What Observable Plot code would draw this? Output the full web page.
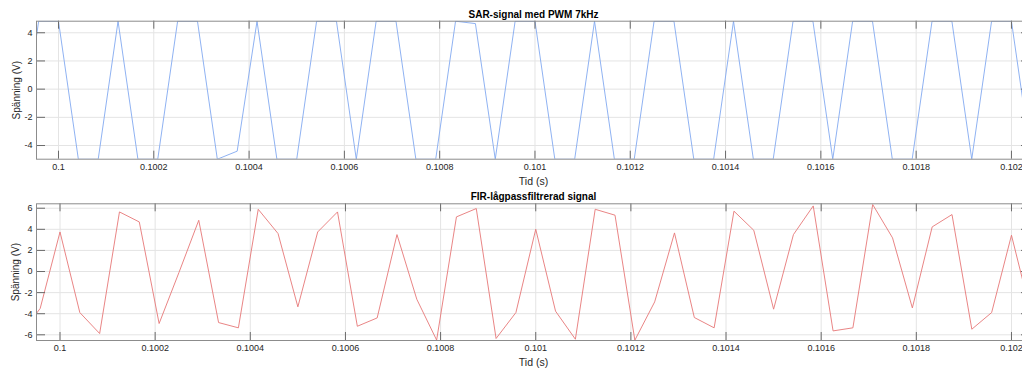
<!DOCTYPE html>
<html><head><meta charset="utf-8">
<script src="https://cdn.jsdelivr.net/npm/d3@7"></script>
<script src="https://cdn.jsdelivr.net/npm/@observablehq/plot@0.6"></script>
<style>
html,body{margin:0;padding:0;background:#fff;overflow:hidden;width:1022px;height:369px}
#chart{width:1030px}
#chart svg{display:block;max-width:none !important;width:1030px;overflow:visible}
</style></head><body><div id="chart"></div>
<script>
// sampling: samples n = firstSample ... at t = n / sampleRate
const sampleRate = 24000;
const firstSample = 2398;

const T = 4.82, B = -4.97;
const sarValues = [B, T, T, B, B, T, B, B, T, T, B, -4.4, T, B, B, T, T, B, T, T, B, B, T, 4.65, B, T, T, B, B, T, B, B, T, T, B, B, T, B, B, T, T, B, T, T, B, B, T, T, B, T, T, B];
const firValues = [-6.0, -3.5, 3.75, -3.89, -5.88, 5.65, 4.7, -4.93, -0.1, 4.86, -4.84, -5.34, 5.9, 3.6, -3.35, 3.75, 5.65, -5.19, -4.4, 3.5, -2.63, -6.5, 5.18, 5.97, -6.35, -3.89, 4.01, -3.76, -6.42, 5.9, 5.34, -6.51, -2.88, 3.66, -4.36, -5.34, 5.72, 3.91, -3.57, 3.5, 6.22, -5.63, -5.34, 6.35, 3.19, -3.45, 4.23, 5.4, -5.47, -3.89, 3.44, -4.1];

const xTicks = [0.1, 0.1002, 0.1004, 0.1006, 0.1008, 0.101, 0.1012, 0.1014, 0.1016, 0.1018, 0.102];
const sarYTicks = [-4, -2, 0, 2, 4];
const firYTicks = [-6, -4, -2, 0, 2, 4, 6];
const sarYDomain = [B, T];
const firYDomain = [-6.54, 6.42];
const sarXDomain = [0.09995383, 0.10204];
const firXDomain = [0.0999506, 0.10204];

const sarTitle = "SAR-signal med PWM 7kHz";
const firTitle = "FIR-lågpassfiltrerad signal";
const xLabel = "Tid (s)";
const yLabel = "Spänning (V)";

const fmtX = d => String(+d.toFixed(4));

function panel({values, color, title, yTicks, yDomain, xDomain, height, marginTop, marginBottom, ylabDx, titleY}) {
  const data = values.map((v, i) => ({t: (firstSample + i) / sampleRate, v}));
  const W = 1030, ML = 36, MR = 0;
  const plotH = height - marginTop - marginBottom;
  const plotW = W - ML - MR;
  const mid = {textAnchor: "middle", lineAnchor: "middle"};
  return Plot.plot({
    width: W, height, marginLeft: ML, marginRight: MR, marginTop, marginBottom,
    style: {fontFamily: "'Liberation Sans', Arial, Helvetica, sans-serif", fontSize: "9px", color: "#262626", background: "none", maxWidth: "none", overflow: "visible"},
    x: {domain: xDomain},
    y: {domain: yDomain},
    marks: [
      Plot.gridX(xTicks, {stroke: "#e4e4e4", strokeOpacity: 1}),
      Plot.gridY(yTicks, {stroke: "#e4e4e4", strokeOpacity: 1}),
      Plot.line(data, {x: "t", y: "v", stroke: color, strokeWidth: 0.9, clip: true}),
      Plot.ruleX(xTicks, {insetTop: plotH - 8, stroke: "#6a6a6a"}),
      Plot.ruleX(xTicks, {insetBottom: plotH - 8, stroke: "#6a6a6a"}),
      Plot.ruleY(yTicks, {insetRight: plotW - 9, stroke: "#6a6a6a"}),
      Plot.ruleY(yTicks, {insetLeft: plotW - 9, stroke: "#6a6a6a"}),
      Plot.frame({stroke: "#8c8c8c"}),
      Plot.axisX(xTicks, {tickSize: 0, tickPadding: 4, label: null, tickFormat: fmtX, fontSize: 9}),
      Plot.axisY(yTicks, {tickSize: 0, tickPadding: 4, label: null, tickFormat: d => String(d), fontSize: 9}),
      Plot.text([xLabel], {frameAnchor: "bottom", dy: 22.5, fontSize: 10.5, fill: "#262626", ...mid}),
      Plot.text([yLabel], {frameAnchor: "left", dx: ylabDx, rotate: -90, fontSize: 10, fill: "#262626", ...mid}),
      Plot.text([title], {frameAnchor: "top", dy: titleY - marginTop, fontWeight: "bold", fontSize: 10, fill: "#000", ...mid})
    ]
  });
}

const root = document.getElementById("chart");
root.append(panel({values: sarValues, color: "#82a9f0", title: sarTitle, yTicks: sarYTicks, yDomain: sarYDomain, xDomain: sarXDomain, height: 185, marginTop: 20.7, marginBottom: 26.3, ylabDx: -20, titleY: 14}));
root.append(panel({values: firValues, color: "#e67777", title: firTitle, yTicks: firYTicks, yDomain: firYDomain, xDomain: firXDomain, height: 184, marginTop: 18.3, marginBottom: 29, ylabDx: -20.5, titleY: 11}));
</script></body></html>
